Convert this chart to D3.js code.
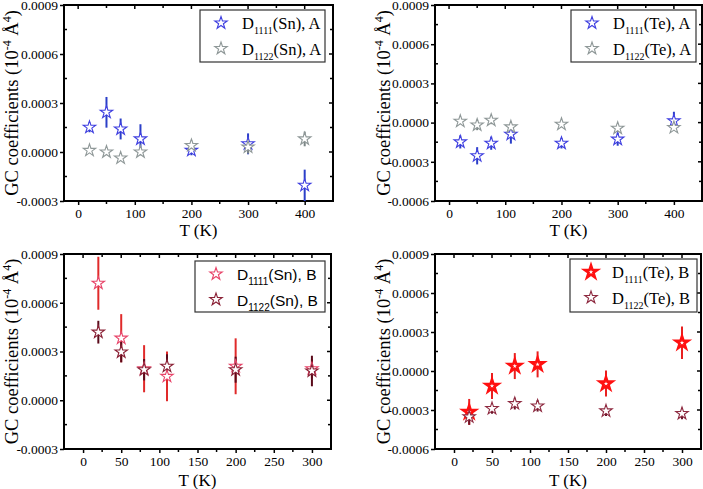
<!DOCTYPE html>
<html>
<head>
<meta charset="utf-8">
<script src="https://cdn.jsdelivr.net/npm/d3@7"></script>
<style>
  body { margin: 0; background: #fff; }
  svg { display: block; }
  .serif { font-family: "Liberation Serif", "Times New Roman", Times, "DejaVu Serif", serif; }
  .sans { font-family: "Liberation Sans", Arial, Helvetica, sans-serif; }
</style>
</head>
<body>
<svg id="chart" width="703" height="489"></svg>
<script>
// temperatures
var tA = [20, 50, 75, 110, 200, 300, 400];
var tB = [20, 50, 80, 110, 200, 300];

// panel (a) Sn, A
var snA1111 = [0.000151, 0.000243, 0.000141, 0.00008, 0.00001, 0.00005, -0.000204];
var snA1111Err = [0.00003, 0.000094, 0.000064, 0.00009, 0.00003, 0.000064, 0.000096];
var snA1122 = [0.00001, 0.0, -0.000037, 0.0, 0.00004, 0.00003, 0.00008];
var snA1122Err = [0.00001, 0.00001, 0.00001, 0.00002, 0.00003, 0.00004, 0.000045];

// panel (b) Te, A
var teA1111 = [-0.000148, -0.000254, -0.000158, -0.000089, -0.000158, -0.000127, 0.000013];
var teA1111Err = [0.00005, 0.000066, 0.00005, 0.000072, 0.00004, 0.00005, 0.00007];
var teA1122 = [0.00001, -0.000018, 0.000018, -0.000033, -0.000013, -0.000043, -0.000038];
var teA1122Err = [0.00002, 0.00004, 0.00003, 0.00004, 0.00002, 0.00003, 0.00002];

// panel (c) Sn, B
var snB1111 = [0.00072, 0.000382, 0.000194, 0.000147, 0.000209, 0.000194];
var snB1111Err = [0.000163, 0.000148, 0.000145, 0.000153, 0.000172, 0.00006];
var snB1122 = [0.000419, 0.000297, 0.000188, 0.000209, 0.000188, 0.00018];
var snB1122Err = [0.00007, 0.000064, 0.000066, 0.000074, 0.00008, 0.000094];

// panel (d) Te, B
var teB1111 = [-0.000315, -0.000115, 0.000038, 0.000051, -0.000097, 0.000217];
var teB1111Err = [0.0001, 0.0001, 0.0001, 0.0001, 0.0001, 0.000125];
var teB1122 = [-0.000353, -0.000289, -0.000251, -0.000269, -0.000307, -0.000327];
var teB1122Err = [0.00006, 0.00004, 0.000045, 0.000043, 0.00004, 0.000045];

// tick values
var xTicksA = [0, 100, 200, 300, 400];
var xTicksB = [0, 50, 100, 150, 200, 250, 300];
var yTicksSn = [-0.0003, 0, 0.0003, 0.0006, 0.0009];
var yTicksTe = [-0.0006, -0.0003, 0, 0.0003, 0.0006, 0.0009];

var panels = [
  { box: [64, 333, 5, 201], xDom: [-25, 450], yDom: [-0.0003, 0.0009],
    xTicks: xTicksA, xMinor: 50, yTicks: yTicksSn, titleX: 12, tkY: 236,
    legend: { x: 200, y: 10, w: 125, h: 52, font: "serif" },
    series: [
      { name: ["D", "1111", "(Sn), A"], t: tA, v: snA1111, e: snA1111Err, stroke: "#3f3fe0", err: "#2b3fc8", sw: 1.1 },
      { name: ["D", "1122", "(Sn), A"], t: tA, v: snA1122, e: snA1122Err, stroke: "#8f9898", err: "#7c8686", sw: 1.1 }
    ] },
  { box: [435, 702, 5, 201], xDom: [-25, 450], yDom: [-0.0006, 0.0009],
    xTicks: xTicksA, xMinor: 50, yTicks: yTicksTe, titleX: 384, tkY: 236,
    legend: { x: 571, y: 10, w: 125, h: 52, font: "serif" },
    series: [
      { name: ["D", "1111", "(Te), A"], t: tA, v: teA1111, e: teA1111Err, stroke: "#3f3fe0", err: "#2b3fc8", sw: 1.1 },
      { name: ["D", "1122", "(Te), A"], t: tA, v: teA1122, e: teA1122Err, stroke: "#8f9898", err: "#7c8686", sw: 1.1 }
    ] },
  { box: [64, 331, 254, 449], xDom: [-25, 325], yDom: [-0.0003, 0.0009],
    xTicks: xTicksB, xMinor: 25, yTicks: yTicksSn, titleX: 12, tkY: 486,
    legend: { x: 195, y: 261, w: 130, h: 51, font: "sans" },
    series: [
      { name: ["D", "1111", "(Sn), B"], t: tB, v: snB1111, e: snB1111Err, stroke: "#e8456a", err: "#e02a2a", sw: 1.1 },
      { name: ["D", "1122", "(Sn), B"], t: tB, v: snB1122, e: snB1122Err, stroke: "#8a2035", err: "#5a0a1a", sw: 1.1 }
    ] },
  { box: [435, 701, 254, 449], xDom: [-25, 325], yDom: [-0.0006, 0.0009],
    xTicks: xTicksB, xMinor: 25, yTicks: yTicksTe, titleX: 384, tkY: 486,
    legend: { x: 570, y: 259, w: 127, h: 53, font: "serif" },
    series: [
      { name: ["D", "1111", "(Te), B"], t: tB, v: teB1111, e: teB1111Err, stroke: "#ff1010", err: "#e82020", sw: 2.6 },
      { name: ["D", "1122", "(Te), B"], t: tB, v: teB1122, e: teB1122Err, stroke: "#8e2a40", err: "#6a1428", sw: 1.1 }
    ] }
];

var svg = d3.select("#chart");
var fmt = function(d){ return d3.format(".4f")(d).replace("\u2212", "-"); };
var star = d3.symbol().type(d3.symbolStar).size(48);

panels.forEach(function(p){
  var x = d3.scaleLinear().domain(p.xDom).range([p.box[0], p.box[1]]);
  var y = d3.scaleLinear().domain(p.yDom).range([p.box[3], p.box[2]]);
  var g = svg.append("g");

  var xMinor = d3.range(0, p.xDom[1], p.xMinor).filter(function(d){ return p.xTicks.indexOf(d) < 0; });
  var yMinor = p.yTicks.slice(0, -1).map(function(d){ return d + 0.00015; });

  // bottom / left axes with labels
  var bottom = g.append("g").attr("transform", "translate(0," + p.box[3] + ")")
    .call(d3.axisBottom(x).tickValues(p.xTicks).tickSize(4).tickPadding(3).tickFormat(d3.format("d")));
  var left = g.append("g").attr("transform", "translate(" + p.box[0] + ",0)")
    .call(d3.axisLeft(y).tickValues(p.yTicks).tickSize(4).tickPadding(2).tickFormat(fmt));
  [bottom, left].forEach(function(a){
    a.attr("font-family", null).attr("font-size", null);
    a.select(".domain").remove();
    a.selectAll("line").attr("stroke", "#000").attr("stroke-width", 1.5);
    a.selectAll("text").attr("class", "serif").style("font-size", "13.5px").attr("fill", "#000");
  });

  // minor ticks
  g.selectAll(".mxb").data(xMinor).enter().append("line")
    .attr("x1", function(d){ return x(d); }).attr("x2", function(d){ return x(d); })
    .attr("y1", p.box[3]).attr("y2", p.box[3] + 3).attr("stroke", "#000").attr("stroke-width", 1.5);
  g.selectAll(".myl").data(yMinor).enter().append("line")
    .attr("y1", function(d){ return y(d); }).attr("y2", function(d){ return y(d); })
    .attr("x1", p.box[0]).attr("x2", p.box[0] + 3).attr("stroke", "#000").attr("stroke-width", 1.5);

  // top / right inner ticks
  g.selectAll(".xt").data(p.xTicks.concat(xMinor)).enter().append("line")
    .attr("x1", function(d){ return x(d); }).attr("x2", function(d){ return x(d); })
    .attr("y1", p.box[2]).attr("y2", function(d){ return p.box[2] + (p.xTicks.indexOf(d) >= 0 ? 4 : 3); })
    .attr("stroke", "#000").attr("stroke-width", 1.5);
  g.selectAll(".yr").data(p.yTicks.concat(yMinor)).enter().append("line")
    .attr("y1", function(d){ return y(d); }).attr("y2", function(d){ return y(d); })
    .attr("x1", p.box[1]).attr("x2", function(d){ return p.box[1] - (p.yTicks.indexOf(d) >= 0 ? 4 : 3); })
    .attr("stroke", "#000").attr("stroke-width", 1.5);

  // frame
  g.append("rect").attr("x", p.box[0]).attr("y", p.box[2])
    .attr("width", p.box[1] - p.box[0]).attr("height", p.box[3] - p.box[2])
    .attr("fill", "none").attr("stroke", "#000").attr("stroke-width", 2);

  // axis titles
  g.append("text").attr("class", "serif").attr("x", (p.box[0] + p.box[1]) / 2).attr("y", p.tkY)
    .attr("text-anchor", "middle").style("font-size", "17px").text("T (K)");
  var yt = g.append("text").attr("class", "serif")
    .attr("transform", "translate(" + (p.titleX + 6) + "," + ((p.box[2] + p.box[3]) / 2) + ") rotate(-90)")
    .attr("text-anchor", "middle").style("font-size", "18.5px");
  yt.append("tspan").text("GC coefficients (10");
  yt.append("tspan").attr("dy", -7).style("font-size", "12px").text("-4");
  yt.append("tspan").attr("dy", 7).text(" \u00c5");
  yt.append("tspan").attr("dy", -7).style("font-size", "12px").text("4");
  yt.append("tspan").attr("dy", 7).text(")");

  // data: error bars, then stars
  p.series.forEach(function(s){
    var pts = s.t.map(function(t, i){ return { t: t, v: s.v[i], e: s.e[i] }; });
    g.selectAll(null).data(pts).enter().append("line")
      .attr("x1", function(d){ return x(d.t); }).attr("x2", function(d){ return x(d.t); })
      .attr("y1", function(d){ return y(d.v - d.e); }).attr("y2", function(d){ return y(d.v + d.e); })
      .attr("stroke", s.err).attr("stroke-width", 2);
  });
  p.series.forEach(function(s){
    var pts = s.t.map(function(t, i){ return { t: t, v: s.v[i] }; });
    g.selectAll(null).data(pts).enter().append("path")
      .attr("d", star)
      .attr("transform", function(d){ return "translate(" + x(d.t) + "," + y(d.v) + ")"; })
      .attr("fill", "#fff").attr("stroke", s.stroke).attr("stroke-width", s.sw);
  });

  // legend
  var L = p.legend;
  g.append("rect").attr("x", L.x).attr("y", L.y).attr("width", L.w).attr("height", L.h)
    .attr("fill", "#fff").attr("stroke", "#333").attr("stroke-width", 1.2);
  p.series.forEach(function(s, i){
    var cy = L.y + 13 + i * 25.5;
    g.append("path").attr("d", star)
      .attr("transform", "translate(" + (L.x + 21) + "," + cy + ")")
      .attr("fill", "#fff").attr("stroke", s.stroke).attr("stroke-width", s.sw);
    var tx = g.append("text").attr("class", L.font).attr("x", L.x + 42).attr("y", cy + 6)
      .style("font-size", L.font === "sans" ? "15.5px" : "16.5px").attr("fill", "#000");
    tx.append("tspan").text(s.name[0]);
    tx.append("tspan").attr("dy", 5).style("font-size", "10px").text(s.name[1]);
    tx.append("tspan").attr("dy", -5).text(s.name[2]);
  });
});
</script>
</body>
</html>
